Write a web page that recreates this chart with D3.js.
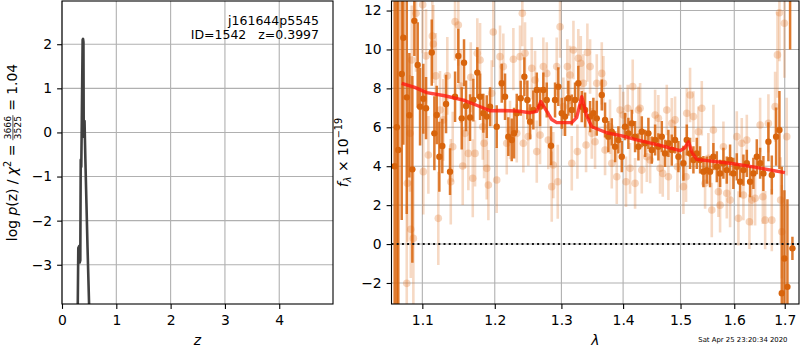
<!DOCTYPE html>
<html>
<head>
<meta charset="utf-8">
<script src="https://cdn.jsdelivr.net/npm/d3@7"></script>
<style>
  body { margin: 0; background: #fff; }
  svg text { font-family: "DejaVu Sans", sans-serif; }
</style>
</head>
<body>
<div id="chart"></div>
<script>
// ---- data ----
const pzZ    = [0.27, 0.290, 0.300, 0.315, 0.325, 0.337, 0.345, 0.355, 0.365, 0.380, 0.388, 0.395, 0.400, 0.405, 0.415, 0.430, 0.450, 0.470, 0.500, 0.52];
const pzLogP = [-6.0, -3.95, -2.62, -2.58, -2.95, -2.90, -0.62, -0.78, 0.30, 2.10, 2.12, 2.05, 0.05, -0.10, 0.26, -0.60, -1.60, -2.60, -3.95, -6.0];

const modelWave = [1.0731, 1.0900, 1.1058, 1.1300, 1.1556, 1.1750, 1.1932, 1.2100, 1.2321, 1.2526, 1.2620, 1.2682, 1.2760, 1.2850, 1.2927, 1.3163, 1.3240, 1.3322, 1.3400, 1.3483, 1.3728, 1.4000, 1.4232, 1.4600, 1.4995, 1.5080, 1.5144, 1.5210, 1.5294, 1.5600, 1.5919, 1.6400, 1.7004];
const modelFlux = [8.26, 8.05, 7.78, 7.62, 7.40, 7.12, 6.85, 6.86, 6.84, 6.75, 6.82, 7.32, 6.90, 6.40, 6.24, 6.24, 6.50, 7.57, 6.60, 6.03, 5.72, 5.55, 5.35, 5.10, 4.80, 4.95, 5.26, 4.70, 4.35, 4.25, 4.15, 3.95, 3.67];

const strongWave = [1.0640, 1.0668, 1.0687, 1.0731, 1.0752, 1.0796, 1.0830, 1.0869, 1.0895, 1.0939, 1.0970, 1.1013, 1.1049, 1.1125, 1.1160, 1.1192, 1.1227, 1.1267, 1.1318, 1.1372,
  1.1441, 1.1486, 1.1533, 1.1565, 1.1593, 1.1649, 1.1695, 1.1751, 1.1790, 1.1836, 1.1885, 1.1932, 1.2028, 1.2101, 1.2149, 1.2197, 1.2247, 1.2281, 1.2321, 1.2380,
  1.2434, 1.2479, 1.2520, 1.2569, 1.2621, 1.2671, 1.2721, 1.2773, 1.2839, 1.2901, 1.2952, 1.3005, 1.3057, 1.3109, 1.3163, 1.3215, 1.3267, 1.3322, 1.3375, 1.3456,
  1.3509, 1.3564, 1.3646, 1.3700, 1.3754, 1.3811, 1.3866, 1.3921, 1.3978, 1.4033, 1.4089, 1.4147, 1.4203, 1.4260, 1.4318, 1.4375, 1.4432, 1.4491, 1.4549, 1.4606,
  1.4666, 1.4724, 1.4783, 1.4843, 1.4902, 1.4962, 1.5052, 1.5113, 1.5173, 1.5234, 1.5296, 1.5357, 1.5418, 1.5481, 1.5542, 1.5604, 1.5668, 1.5730, 1.5793, 1.5857,
  1.5920, 1.5983, 1.6049, 1.6113, 1.6177, 1.6243, 1.6307, 1.6372, 1.6439, 1.6505, 1.6570, 1.6670, 1.6738, 1.6825, 1.6892, 1.6940, 1.6993, 1.7055, 1.7110, 1.7158];
const strongFlux = [4.00, 6.00, 4.83, 8.74, 10.60, 7.54, 6.62, 3.84, 11.47, 9.20, 7.06, 7.47, 6.98, 9.84, 5.69, 6.63, 4.49, 5.04, 7.20, 3.72,
  7.57, 9.67, 6.46, 9.32, 7.10, 6.50, 7.40, 8.81, 7.57, 6.72, 6.55, 7.06, 6.03, 8.26, 7.57, 5.52, 5.35, 5.70, 6.72, 7.49,
  8.60, 7.40, 6.29, 6.89, 7.92, 7.06, 7.92, 7.40, 5.05, 7.40, 8.09, 6.72, 6.55, 7.49, 6.89, 7.40, 8.26, 7.06, 6.89, 6.55,
  6.72, 6.46, 7.66, 6.38, 5.52, 5.77, 5.00, 5.35, 4.49, 6.03, 5.69, 6.20, 5.52, 5.00, 5.77, 5.18, 5.69, 4.83, 5.35, 5.00,
  5.52, 4.66, 5.18, 4.83, 5.35, 4.49, 4.15, 5.35, 4.66, 4.32, 4.66, 4.32, 3.72, 3.80, 3.72, 4.49, 3.97, 3.63, 4.15, 3.80,
  4.32, 3.63, 3.97, 3.20, 3.80, 4.15, 3.20, 3.63, 4.49, 4.15, 3.63, 5.26, 3.55, 5.52, 5.86, -2.53, -0.74, -2.20, 14.50, -0.22];
const strongErr = [12.0, 10.0, 9.0, 7.5, 5.5, 6.0, 3.2, 4.8, 1.8, 2.2, 2.0, 1.8, 1.6, 1.7, 1.9, 1.5, 1.8, 1.4, 1.5, 1.2,
  1.3, 1.4, 1.6, 1.2, 1.3, 1.2, 1.1, 1.3, 1.2, 1.0, 1.1, 1.0, 1.1, 1.0, 1.2, 1.0, 1.1, 1.3, 1.0, 0.9,
  1.0, 1.0, 0.9, 1.0, 0.9, 1.0, 0.9, 0.9, 1.0, 0.9, 1.0, 0.8, 1.0, 0.9, 0.8, 0.9, 0.9, 0.8, 0.9, 0.8,
  0.8, 0.9, 0.8, 0.9, 0.8, 0.7, 0.8, 0.7, 0.8, 0.7, 0.8, 0.7, 0.8, 0.7, 0.8, 0.7, 0.8, 0.7, 0.8, 0.7,
  0.8, 0.7, 0.7, 0.8, 0.7, 0.8, 0.9, 0.8, 0.8, 0.7, 0.8, 0.7, 0.8, 0.7, 0.8, 0.7, 0.8, 0.7, 0.8, 0.7,
  0.8, 0.8, 0.7, 0.8, 0.8, 0.7, 0.8, 0.8, 0.9, 0.8, 0.9, 1.0, 1.0, 1.5, 2.0, 6.5, 3.5, 4.5, 4.5, 0.6];

const faintWave = [1.0796, 1.0804, 1.0839, 1.0848, 1.0861, 1.0882, 1.0917, 1.1005, 1.1013, 1.1049, 1.1080, 1.1133, 1.1146, 1.1179, 1.1213, 1.1236, 1.1281, 1.1335, 1.1382, 1.1409,
  1.1441, 1.1486, 1.1519, 1.1547, 1.1579, 1.1625, 1.1659, 1.1687, 1.1719, 1.1751, 1.1790, 1.1828, 1.1847, 1.1885, 1.1908, 1.1956, 1.1979, 1.2028, 1.2076, 1.2124,
  1.2174, 1.2222, 1.2271, 1.2321, 1.2370, 1.2404, 1.2419, 1.2444, 1.2493, 1.2545, 1.2595, 1.2621, 1.2671, 1.2721, 1.2773, 1.2797, 1.2850, 1.2874, 1.2927, 1.2943,
  1.2979, 1.3030, 1.3093, 1.3136, 1.3163, 1.3189, 1.3252, 1.3267, 1.3306, 1.3348, 1.3391, 1.3412, 1.3456, 1.3483, 1.3536, 1.3564, 1.3646, 1.3673, 1.3700, 1.3782,
  1.3811, 1.3894, 1.3949, 1.4003, 1.4049, 1.4078, 1.4117, 1.4163, 1.4203, 1.4260, 1.4289, 1.4318, 1.4405, 1.4462, 1.4549, 1.4606, 1.4636, 1.4683, 1.4754, 1.4783,
  1.4843, 1.4902, 1.4944, 1.5052, 1.5100, 1.5113, 1.5173, 1.5234, 1.5325, 1.5388, 1.5449, 1.5510, 1.5574, 1.5604, 1.5698, 1.5730, 1.5793, 1.5857, 1.5920, 1.6049,
  1.6080, 1.6145, 1.6177, 1.6243, 1.6294, 1.6341, 1.6406, 1.6505, 1.6559, 1.6605, 1.6670, 1.6738, 1.6805, 1.6852, 1.6892, 1.6916, 1.6940, 1.6993, 1.7041];
const faintFlux = [-2.02, 3.12, 5.69, 0.76, 9.46, 0.29, 11.86, 12.30, 3.72, 9.67, 4.58, 10.69, 10.28, 8.64, 1.32, 6.89, 6.38, 8.64, 3.20, 5.00,
  11.43, 11.26, 8.12, 4.01, 5.69, 4.66, 8.57, 3.38, 4.66, 9.80, 9.46, 6.03, 5.18, 3.89, 3.03, 7.75, 10.90, 3.29, 9.63, 9.12,
  5.18, 5.86, 9.50, 5.69, 9.63, 11.86, 5.18, 9.80, 5.52, 9.03, 8.43, 4.75, 5.60, 9.12, 8.77, 5.35, 2.95, 4.06, 9.12, 3.20,
  11.17, 7.06, 9.12, 8.69, 4.15, 9.97, 4.75, 9.55, 9.29, 8.26, 5.09, 9.84, 9.12, 5.69, 5.26, 8.26, 8.77, 8.26, 4.83, 6.03,
  4.15, 3.46, 6.89, 6.63, 3.20, 6.98, 3.89, 8.09, 3.12, 6.89, 6.98, 3.80, 4.49, 4.32, 6.63, 6.46, 3.89, 3.63, 6.89, 3.46,
  6.20, 6.38, 3.97, 2.95, 3.46, 6.72, 7.66, 6.55, 5.77, 6.98, 3.12, 4.41, 1.75, 5.86, 2.69, 2.00, 5.00, 2.61, 2.26, 5.52,
  1.32, 5.18, 2.52, 5.35, 1.15, 2.26, 2.35, 6.12, 2.43, 1.23, 6.20, 1.23, 7.06, 9.72, 11.89, 2.26, 0.63, 11.35, 5.52];
const faintErr = [4.0, 3.0, 3.0, 2.5, 2.8, 3.5, 3.0, 2.5, 2.2, 2.4, 2.0, 2.2, 2.0, 2.2, 2.4, 2.0, 2.1, 2.0, 2.2, 1.8,
  2.0, 2.1, 1.9, 2.0, 1.8, 1.9, 1.8, 2.0, 1.7, 1.8, 1.9, 1.7, 1.8, 1.6, 1.8, 1.7, 1.8, 1.7, 1.6, 1.7,
  1.6, 1.5, 1.6, 1.5, 1.6, 1.7, 1.5, 1.6, 1.5, 1.6, 1.5, 1.6, 1.5, 1.5, 1.6, 1.5, 1.8, 1.7, 1.5, 1.9,
  1.6, 1.5, 1.4, 1.5, 1.4, 1.5, 1.4, 1.5, 1.4, 1.5, 1.4, 1.5, 1.4, 1.3, 1.4, 1.5, 1.6, 1.4, 1.3, 1.4,
  1.3, 1.4, 1.3, 1.2, 1.3, 1.2, 1.3, 1.4, 1.3, 1.2, 1.3, 1.2, 1.3, 1.2, 1.3, 1.2, 1.3, 1.2, 1.3, 1.2,
  1.3, 1.2, 1.3, 1.4, 1.3, 1.3, 1.4, 1.3, 1.3, 1.4, 1.3, 1.3, 1.4, 1.3, 1.3, 1.4, 1.3, 1.3, 1.4, 1.3,
  1.4, 1.3, 1.3, 1.3, 1.4, 1.3, 1.4, 1.4, 1.4, 1.5, 1.5, 1.6, 1.8, 2.2, 2.5, 2.2, 2.4, 2.8, 2.0];

const pzXTicks = [0, 1, 2, 3, 4];
const pzYTicks = [-3, -2, -1, 0, 1, 2];
const specXTicks = [1.1, 1.2, 1.3, 1.4, 1.5, 1.6, 1.7];
const specYTicks = [-2, 0, 2, 4, 6, 8, 10, 12];

// ---- layout ----
const W = 800, H = 350;
const FS = 13.9;
const pzBox = { left: 62, right: 333, top: 1, bottom: 304 };
const spBox = { left: 391.5, right: 799, top: 1, bottom: 304 };

const svg = d3.select("#chart").append("svg")
  .attr("width", W)
  .attr("height", H)
  .style("display", "block");

const xz = d3.scaleLinear().domain([0, 4.99]).range([pzBox.left, pzBox.right]);
const yz = d3.scaleLinear().domain([-3.89, 2.98]).range([pzBox.bottom, pzBox.top]);
const xl = d3.scaleLog().domain([1.0600, 1.7294]).range([spBox.left, spBox.right]);
const yf = d3.scaleLinear().domain([-3.08, 12.49]).range([spBox.bottom, spBox.top]);

/**
 * Grid, clip path and a group for the marks of one panel.
 */
function makePanel(id, box, xs, ys, xTicks, yTicks) {
  svg.append("clipPath").attr("id", id)
    .append("rect")
    .attr("x", box.left).attr("y", box.top)
    .attr("width", box.right - box.left).attr("height", box.bottom - box.top);

  const grid = svg.append("g").attr("class", "grid")
    .attr("stroke", "#b0b0b0").attr("stroke-width", 1.1);
  grid.selectAll("line.gx").data(xTicks).enter().append("line")
    .attr("x1", d => xs(d)).attr("x2", d => xs(d))
    .attr("y1", box.top).attr("y2", box.bottom);
  grid.selectAll("line.gy").data(yTicks).enter().append("line")
    .attr("y1", d => ys(d)).attr("y2", d => ys(d))
    .attr("x1", box.left).attr("x2", box.right);

  return svg.append("g").attr("clip-path", `url(#${id})`);
}

/**
 * Frame and tick labels, drawn on top of the marks.
 */
function drawAxes(box, xs, ys, xTicks, yTicks, fmtX, fmtY) {
  svg.append("rect")
    .attr("x", box.left).attr("y", box.top)
    .attr("width", box.right - box.left).attr("height", box.bottom - box.top)
    .attr("fill", "none").attr("stroke", "#000").attr("stroke-width", 1.1);

  const ax = svg.append("g")
    .attr("transform", `translate(0,${box.bottom})`)
    .call(d3.axisBottom(xs).tickValues(xTicks).tickFormat(fmtX).tickSize(4.9).tickPadding(4.9));
  const ay = svg.append("g")
    .attr("transform", `translate(${box.left},0)`)
    .call(d3.axisLeft(ys).tickValues(yTicks).tickFormat(fmtY).tickSize(4.9).tickPadding(4.9));

  [ax, ay].forEach(a => {
    a.attr("font-family", "DejaVu Sans").attr("font-size", FS);
    a.select(".domain").remove();
    a.selectAll(".tick line").attr("stroke", "#000").attr("stroke-width", 1.1);
    a.selectAll(".tick text").attr("fill", "#000");
  });
  ax.selectAll(".tick text").attr("dy", "0.78em");
}

// ---- left panel: p(z) ----
const pzG = makePanel("clipPz", pzBox, xz, yz, pzXTicks, pzYTicks);
const pzLine = d3.line().x((d, i) => xz(pzZ[i])).y(d => yz(d));
pzG.append("path")
  .datum(pzLogP)
  .attr("d", pzLine)
  .attr("fill", "none")
  .attr("stroke", "#404040")
  .attr("stroke-width", 2.6)
  .attr("stroke-linejoin", "round");
drawAxes(pzBox, xz, yz, pzXTicks, pzYTicks, d3.format("d"), d3.format("d"));

svg.append("text")
  .attr("x", 319).attr("y", 25)
  .attr("text-anchor", "end").attr("font-size", 12.5)
  .text("j161644p5545");
svg.append("text")
  .attr("x", 319).attr("y", 38.5)
  .attr("text-anchor", "end").attr("font-size", 12.5)
  .style("white-space", "pre")
  .text("ID=1542   z=0.3997");

// ---- right panel: spectrum ----
const spG = makePanel("clipSp", spBox, xl, yf, specXTicks, specYTicks);

function drawPoints(g, wave, flux, err, opt) {
  const pts = wave.map((w, i) => ({ w: w, f: flux[i], e: err[i] }));
  const grp = g.append("g");
  grp.selectAll("line").data(pts).enter().append("line")
    .attr("x1", d => xl(d.w)).attr("x2", d => xl(d.w))
    .attr("y1", d => yf(d.f - d.e)).attr("y2", d => yf(d.f + d.e))
    .attr("stroke", opt.color)
    .attr("stroke-opacity", opt.barOpacity)
    .attr("stroke-width", opt.barWidth);
  grp.selectAll("circle").data(pts).enter().append("circle")
    .attr("cx", d => xl(d.w)).attr("cy", d => yf(d.f))
    .attr("r", opt.r)
    .attr("fill", opt.color)
    .attr("fill-opacity", opt.dotOpacity);
}

drawPoints(spG, faintWave, faintFlux, faintErr,
  { color: "#e0782a", barOpacity: 0.28, dotOpacity: 0.3, barWidth: 2.6, r: 3.8 });
drawPoints(spG, strongWave, strongFlux, strongErr,
  { color: "#d8640c", barOpacity: 0.85, dotOpacity: 1, barWidth: 2.5, r: 3.2 });

spG.append("path")
  .datum(modelFlux)
  .attr("d", d3.line().x((d, i) => xl(modelWave[i])).y(d => yf(d)))
  .attr("fill", "none")
  .attr("stroke", "#ff1a10")
  .attr("stroke-opacity", 0.8)
  .attr("stroke-width", 3.4)
  .attr("stroke-linejoin", "round");

spG.append("line")
  .attr("x1", spBox.left).attr("x2", spBox.right)
  .attr("y1", yf(0)).attr("y2", yf(0))
  .attr("stroke", "#111")
  .attr("stroke-width", 2)
  .attr("stroke-dasharray", "2,3.2");

drawAxes(spBox, xl, yf, specXTicks, specYTicks, d3.format(".1f"), d3.format("d"));

// ---- axis titles ----
svg.append("text")
  .attr("x", (pzBox.left + pzBox.right) / 2).attr("y", 345)
  .attr("text-anchor", "middle").attr("font-size", FS).attr("font-style", "italic")
  .text("z");
svg.append("text")
  .attr("x", (spBox.left + spBox.right) / 2).attr("y", 345)
  .attr("text-anchor", "middle").attr("font-size", FS).attr("font-style", "italic")
  .text("λ");

/**
 * Rotated y label for the p(z) panel, with a small stacked fraction.
 */
function pzYLabel() {
  const outer = svg.append("g").attr("transform", "translate(16.5,152.5) rotate(-90)");
  const g = outer.append("g");
  const small = FS * 0.7;

  const head = g.append("text").attr("font-size", FS).style("white-space", "pre");
  head.append("tspan").text("log ");
  head.append("tspan").attr("font-style", "italic").text("p");
  head.append("tspan").text("(z) / ");
  head.append("tspan").attr("font-style", "italic").text("χ");
  head.append("tspan").attr("font-size", small).attr("dy", -5.5).text("2");
  head.append("tspan").attr("dy", 5.5).text(" = ");
  const w1 = head.node().getComputedTextLength();

  const num = g.append("text").attr("font-size", small * 0.95).attr("text-anchor", "middle").text("3666");
  const den = g.append("text").attr("font-size", small * 0.95).attr("text-anchor", "middle").text("3525");
  const fw = Math.max(num.node().getComputedTextLength(), den.node().getComputedTextLength()) + 1.5;
  num.attr("x", w1 + fw / 2).attr("y", -5.3);
  den.attr("x", w1 + fw / 2).attr("y", 4.3);
  g.append("line")
    .attr("x1", w1).attr("x2", w1 + fw)
    .attr("y1", -3.6).attr("y2", -3.6)
    .attr("stroke", "#000").attr("stroke-width", 0.7);

  const tail = g.append("text").attr("font-size", FS).style("white-space", "pre")
    .attr("x", w1 + fw).text(" = 1.04");
  const total = w1 + fw + tail.node().getComputedTextLength();
  g.attr("transform", `translate(${-total / 2},0)`);
}

/**
 * Rotated y label for the spectrum panel.
 */
function specYLabel() {
  const outer = svg.append("g").attr("transform", "translate(347.5,152.5) rotate(-90)");
  const t = outer.append("text").attr("font-size", FS).style("white-space", "pre");
  t.append("tspan").attr("font-style", "italic").text("f");
  t.append("tspan").attr("font-style", "italic").attr("font-size", FS * 0.7).attr("dy", 3).text("λ");
  t.append("tspan").attr("dy", -3).text(" × 10");
  t.append("tspan").attr("font-size", FS * 0.7).attr("dy", -5.5).text("−19");
  const w = t.node().getComputedTextLength();
  t.attr("x", -w / 2);
}

pzYLabel();
specYLabel();

svg.append("text")
  .attr("x", 787.5).attr("y", 341.5)
  .attr("text-anchor", "end").attr("font-size", 6.9)
  .text("Sat Apr 25 23:20:34 2020");
</script>
</body>
</html>
